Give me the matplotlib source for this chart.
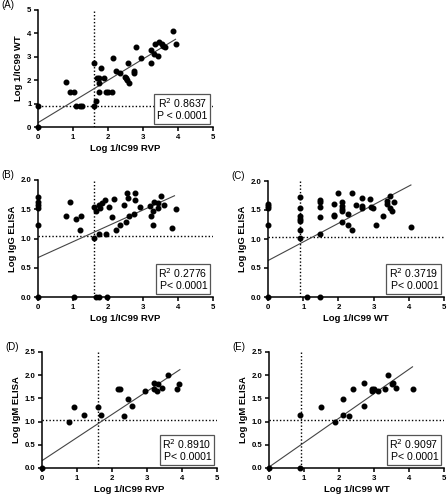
import matplotlib
matplotlib.use("Agg")
import matplotlib.pyplot as plt
import numpy as np

plt.rcParams['font.family'] = ['Liberation Sans', 'DejaVu Sans']

# Panel A: RVP vs WT
a_x = [0, 0, 0.79, 0.91, 1.02, 1.09, 1.2, 1.25, 1.61, 1.6, 1.67, 1.68, 1.75, 1.75, 1.75, 1.81, 1.88,
       1.95, 2.0, 2.1, 2.15, 2.22, 2.35, 2.49, 2.51, 2.55, 2.6, 2.58, 2.75, 2.74, 2.79, 2.94, 3.22,
       3.24, 3.3, 3.33, 3.44, 3.45, 3.53, 3.58, 3.62, 3.86, 3.94]
a_y = [0, 0.9, 1.92, 1.51, 1.51, 0.9, 0.9, 0.9, 2.72, 0.9, 1.13, 2.1, 2.1, 1.9, 1.51, 2.51, 2.1,
       1.51, 1.51, 1.51, 2.97, 2.41, 2.32, 2.12, 2.08, 2.0, 1.9, 2.72, 2.39, 2.32, 3.43, 2.95, 2.72,
       3.3, 3.12, 3.56, 3.02, 3.62, 3.56, 3.46, 3.42, 4.12, 3.53]

# Panel B: RVP vs IgG
b_x = [0, 0, 0, 0, 0, 0, 0.79, 0.91, 1.09, 1.23, 1.21, 1.02, 1.6, 1.6, 1.66, 1.73, 1.67, 1.75, 1.78,
       1.75, 1.84, 1.92, 1.95, 1.98, 2.03, 2.1, 2.16, 2.22, 2.34, 2.46, 2.52, 2.53, 2.57, 2.59, 2.73,
       2.76, 2.77, 2.91, 3.21, 3.23, 3.29, 3.29, 3.31, 3.42, 3.43, 3.51, 3.59, 3.84, 3.93]
b_y = [1.71, 1.62, 1.58, 1.52, 1.23, 0, 1.39, 1.62, 1.33, 1.38, 1.15, 0, 1.53, 1.01, 0, 0, 1.47, 1.57,
       1.52, 1.08, 1.61, 1.65, 1.07, 0, 1.53, 1.36, 1.67, 1.15, 1.23, 1.58, 1.28, 1.78, 1.69, 1.38,
       1.42, 1.78, 1.65, 1.53, 1.55, 1.38, 1.47, 1.23, 1.63, 1.52, 1.6, 1.73, 1.58, 1.18, 1.5]

# Panel C: WT vs IgG
c_x = [0, 0, 0, 0, 0, 0.9, 0.9, 0.9, 0.9, 0.9, 0.9, 0.9, 1.11, 1.48, 1.48, 1.48, 1.48, 1.48, 1.48,
       1.88, 1.88, 1.88, 1.99, 2.09, 2.09, 2.09, 2.09, 2.09, 2.27, 2.27, 2.38, 2.4, 2.49, 2.67, 2.67,
       2.67, 2.91, 2.92, 2.98, 3.08, 3.27, 3.38, 3.39, 3.46, 3.46, 3.52, 3.58, 4.06]
c_y = [1.61, 1.57, 1.53, 1.24, 0, 1.73, 1.53, 1.39, 1.35, 1.31, 1.16, 1.01, 0, 1.67, 1.63, 1.55, 1.38,
       1.09, 0, 1.6, 1.4, 1.42, 1.8, 1.63, 1.57, 1.52, 1.48, 1.3, 1.43, 1.24, 1.16, 1.8, 1.58, 1.71,
       1.57, 1.54, 1.69, 1.55, 1.54, 1.24, 1.39, 1.6, 1.66, 1.75, 1.53, 1.49, 1.63, 1.2]

# Panel D: RVP vs IgM
d_x = [0, 0.78, 0.91, 1.21, 1.61, 1.69, 2.16, 2.23, 2.34, 2.47, 2.56, 2.93, 3.2, 3.21, 3.29, 3.31,
       3.44, 3.6, 3.85, 3.92]
d_y = [0, 1.0, 1.32, 1.15, 1.32, 1.15, 1.7, 1.7, 1.11, 1.49, 1.34, 1.65, 1.83, 1.71, 1.65, 1.81,
       1.72, 2.01, 1.7, 1.8]

# Panel E: WT vs IgM
e_x = [0, 0.89, 0.89, 1.49, 1.89, 2.1, 2.1, 2.29, 2.39, 2.7, 2.7, 2.93, 2.93, 3.0, 3.1, 3.3, 3.4,
       3.5, 3.55, 3.62, 4.1]
e_y = [0, 0, 1.15, 1.32, 1.0, 1.49, 1.15, 1.11, 1.71, 1.83, 1.34, 1.65, 1.7, 1.71, 1.65, 1.71, 2.01,
       1.8, 1.83, 1.72, 1.7]

# regression (intercept, slope, x end), cutoffs, stats
panels = [
    dict(tag="(A)", x=a_x, y=a_y, fit=(0.185, 0.907, 3.93), vx=1.6, hy=0.9,
         xl="Log 1/IC99 RVP", yl="Log 1/IC99 WT", ymax=5, ystep=1, r2="0.8637", p="P < 0.0001",
         pos=[38, 10, 213, 127], ylfmt="{:.0f}"),
    dict(tag="(B)", x=b_x, y=b_y, fit=(0.674, 0.271, 3.9), vx=1.6, hy=1.04,
         xl="Log 1/IC99 RVP", yl="Log IgG ELISA", ymax=2.0, ystep=0.5, r2="0.2776", p="P< 0.0001",
         pos=[38, 180, 213, 297], ylfmt="{:.1f}"),
    dict(tag="(C)", x=c_x, y=c_y, fit=(0.628, 0.321, 4.06), vx=0.9, hy=1.04,
         xl="Log 1/IC99 WT", yl="Log IgG ELISA", ymax=2.0, ystep=0.5, r2="0.3719", p="P< 0.0001",
         pos=[268, 181, 444, 297], ylfmt="{:.1f}"),
    dict(tag="(D)", x=d_x, y=d_y, fit=(0.158, 0.498, 3.94), vx=1.6, hy=1.04,
         xl="Log 1/IC99 RVP", yl="Log IgM ELISA", ymax=2.5, ystep=0.5, r2="0.8910", p="P< 0.0001",
         pos=[42, 352, 217, 468], ylfmt="{:.1f}"),
    dict(tag="(E)", x=e_x, y=e_y, fit=(0.02, 0.527, 4.1), vx=0.9, hy=1.04,
         xl="Log 1/IC99 WT", yl="Log IgM ELISA", ymax=2.5, ystep=0.5, r2="0.9097", p="P< 0.0001",
         pos=[269, 352, 444, 468], ylfmt="{:.1f}"),
]

W, H = 447, 500
fig = plt.figure(figsize=(W / 100, H / 100), dpi=100)

for pn in panels:
    x0, y0, x1, y1 = pn["pos"]
    ax = fig.add_axes([x0 / W, 1 - y1 / H, (x1 - x0) / W, (y1 - y0) / H])
    ax.set_xlim(0, 5)
    ax.set_ylim(0, pn["ymax"])
    for s in ["top", "right"]:
        ax.spines[s].set_visible(False)
    for s in ["left", "bottom"]:
        ax.spines[s].set_linewidth(1.1)
    ax.set_xticks(np.arange(0, 6, 1))
    yt = np.arange(0, pn["ymax"] + 1e-9, pn["ystep"])
    ax.set_yticks(yt)
    ax.set_yticklabels([pn["ylfmt"].format(v) for v in yt])
    ax.tick_params(direction="out", length=3, width=1.1, labelsize=5.6, pad=1.8)
    for lab in ax.get_xticklabels() + ax.get_yticklabels():
        lab.set_fontweight("bold")
    ax.set_xlabel(pn["xl"], fontsize=6.8, fontweight="bold", labelpad=2.5)
    ax.set_ylabel(pn["yl"], fontsize=6.8, fontweight="bold", labelpad=2.5)

    ax.axvline(pn["vx"], color="black", ls=(0, (1, 1.5)), lw=1.0, zorder=1)
    ax.axhline(pn["hy"], color="black", ls=(0, (1, 1.5)), lw=1.0, zorder=1)

    b0, b1, xe = pn["fit"]
    xs = np.array([0, xe])
    ax.plot(xs, b0 + b1 * xs, color="#444444", lw=0.8, zorder=2)

    ax.plot(pn["x"], pn["y"], "o", color="black", ms=3.3, clip_on=False, zorder=4)

    ax.text(0.968, 0.05, "R$^2$ " + pn["r2"] + "\n" + pn["p"], transform=ax.transAxes,
            ha="right", va="bottom", fontsize=7.6, linespacing=1.1, zorder=5,
            bbox=dict(boxstyle="square,pad=0.25", fc="white", ec="#555555", lw=0.9))

    fig.text((x0 - 37) / W, 1 - (y0 - 5) / H, pn["tag"], fontsize=7, ha="left", va="center")

fig.savefig("out.png", dpi=100)
